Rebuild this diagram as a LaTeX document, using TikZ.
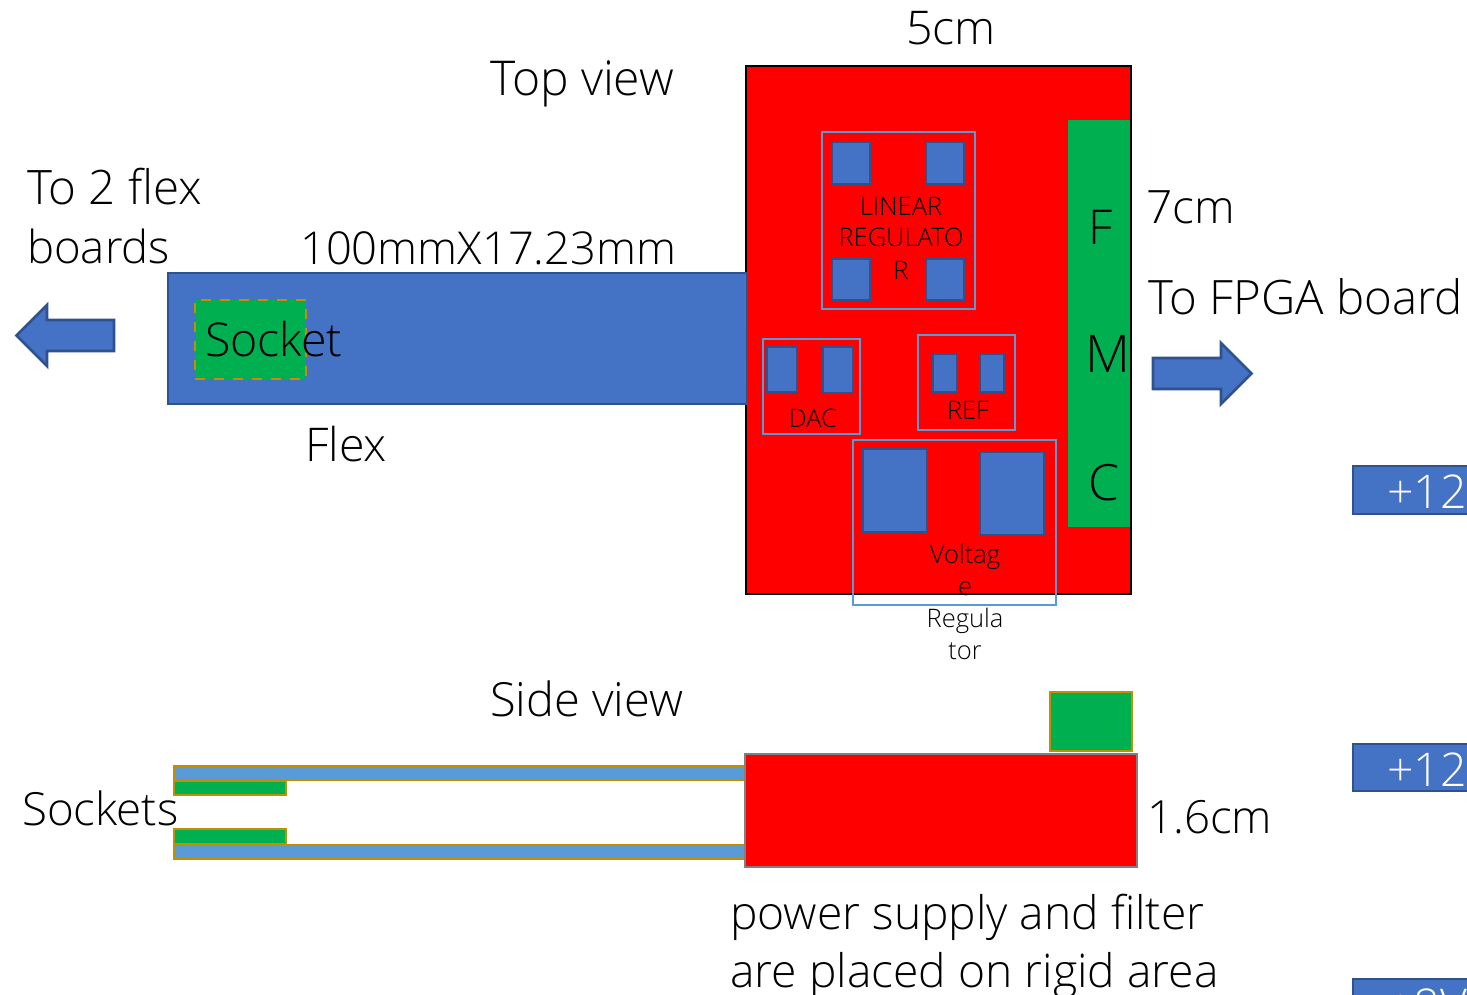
\documentclass[tikz,border=0pt]{standalone}
\usepackage{fontspec}
\setmainfont{Open Sans Light}
\definecolor{bfill}{HTML}{4472C4}
\definecolor{bline}{HTML}{2F528F}
\definecolor{lblue}{HTML}{5B9BD5}
\definecolor{gold}{HTML}{BF9000}
\definecolor{pgreen}{HTML}{00B050}
\newcommand{\rbox}[6]{%
  \pgfmathsetmacro\rx{(#3+#5)/2}\pgfmathsetmacro\ry{(#4+#6)/2}%
  \pgfmathsetmacro\rw{#5-#3}\pgfmathsetmacro\rh{#6-#4}%
  \node[rectbox,#2,minimum width=\rw pt,minimum height=\rh pt] (#1) at (\rx,\ry) {};}
\tikzset{
  rectbox/.style={rectangle,inner sep=0pt,outer sep=0pt},
  part/.style={fill=bfill,draw=bline,line width=2.8pt},
  group/.style={draw=lblue,line width=2pt},
  stripb/.style={fill=lblue,draw=gold,line width=2.8pt},
  stripg/.style={fill=pgreen,draw=gold,line width=2.8pt},
  arrowshape/.style={fill=bfill,draw=bline,line width=2.8pt,line join=miter},
  lab/.style={anchor=base west,inner sep=0pt,font=\fontsize{46.5}{46.5}\selectfont,text=black},
  fs/.style={font=\fontsize{#1}{#1}\selectfont},
  small/.style={anchor=base,inner sep=0pt,font=\fontsize{25.5}{25.5}\selectfont},
  tag/.style={lab,text=white}
}
\begin{document}
\begin{tikzpicture}[x=1pt,y=-1pt]
\useasboundingbox (0,0) rectangle (1467,995);
\clip (0,0) rectangle (1467,995);
% top view board
\rbox{board}{fill=red,draw=black,line width=2.6pt}{746}{66}{1131}{594}
\rbox{fmc}{fill=pgreen}{1068}{120}{1130}{527}
\rbox{flex}{part}{168}{273}{747}{404}
\rbox{socket}{fill=pgreen,draw=gold,line width=2.8pt,dash pattern=on 10pt off 9pt}{195}{300}{306}{379}
\rbox{lrgroup}{group}{822}{132}{975}{309}
\rbox{lra}{part}{832}{142}{870}{184}
\rbox{lrb}{part}{926}{142}{964}{184}
\rbox{lrc}{part}{832}{259}{870}{300}
\rbox{lrd}{part}{926}{259}{964}{300}
\rbox{dacgroup}{group}{763}{339}{860}{434}
\rbox{daca}{part}{767}{347}{797}{392}
\rbox{dacb}{part}{823}{347}{853}{393}
\rbox{refgroup}{group}{918}{335}{1015}{430}
\rbox{refa}{part}{933}{354}{957}{392}
\rbox{refb}{part}{980}{354}{1004}{392}
\rbox{vrgroup}{group}{853}{440}{1056}{605}
\rbox{vra}{part}{863}{449}{927}{532}
\rbox{vrb}{part}{980}{452}{1044}{535}
% arrows
\draw[arrowshape] (16.5,335.5) -- (47,305) -- (47,320) -- (114,320) -- (114,351) -- (47,351) -- (47,366) -- cycle;
\draw[arrowshape] (1251.5,373.5) -- (1221,343) -- (1221,358) -- (1153,358) -- (1153,389) -- (1221,389) -- (1221,404) -- cycle;
% side view
\rbox{sidetop}{stripb}{174}{766}{745}{780}
\rbox{sockettop}{stripg}{174}{781}{286}{795}
\rbox{socketbot}{stripg}{174}{829}{286}{844}
\rbox{sidebot}{stripb}{174}{845}{745}{859}
\rbox{rigid}{fill=red,draw=black!50,line width=2.8pt}{745}{754}{1137}{867}
\rbox{fmcside}{fill=pgreen,draw=gold,line width=2.8pt}{1050}{692}{1132}{751}
% voltage tags
\rbox{taga}{part}{1353}{466}{1480}{514}
\rbox{tagb}{part}{1353}{744}{1480}{791}
\rbox{tagc}{part}{1353}{979}{1480}{1030}
\node[tag] (taga t) at (1387,508) {+12};
\node[tag] (tagb t) at (1387,786) {+12};
\node[tag] (tagc t) at (1387,1022) {+8V};
% labels
\node[lab] (l5) at (906,44.5) {5cm};
\node[lab,fs=48] (ltop) at (490,95.5) {Top view};
\node[lab,fs=47.5] (lto2) at (27,205) {To 2 flex};
\node[lab,fs=45.5] (lbd) at (27,263) {boards};
\node[lab,fs=45.3] (ldim) at (300,264.5) {100mmX17.23mm};
\node[lab,fs=46] (l7) at (1146,223.5) {7cm};
\node[lab,fs=47.4] (lfpga) at (1148,314) {To FPGA board};
\node[lab] (lsock) at (205,356.5) {Socket};
\node[lab] (lflex) at (305,461.5) {Flex};
\node[lab,fs=48] (lF) at (1088,244.5) {F};
\node[lab,fs=52] (lM) at (1085,372.5) {M};
\node[lab,fs=50] (lC) at (1088,500.5) {C};
\node[lab,fs=47] (lside) at (490,716.5) {Side view};
\node[lab,fs=45.7] (lsockets) at (22,825) {Sockets};
\node[lab,fs=45.7] (l16) at (1147,833.5) {1.6cm};
\node[lab,fs=46.2] (lp1) at (730,929.5) {power supply and filter};
\node[lab,fs=46.2] (lp2) at (730,987.5) {are placed on rigid area};
\node[small] (s1) at (901,215) {LINEAR};
\node[small] (s2) at (901,247) {REGULATO};
\node[small] (s3) at (901,279) {R};
\node[small] (sdac) at (813,427) {DAC};
\node[small] (sref) at (968,419) {REF};
\node[small] (v1) at (965,563) {Voltag};
\node[small] (v2) at (965,595) {e};
\node[small] (v3) at (965,627) {Regula};
\node[small] (v4) at (965,659) {tor};
\end{tikzpicture}
\end{document}
